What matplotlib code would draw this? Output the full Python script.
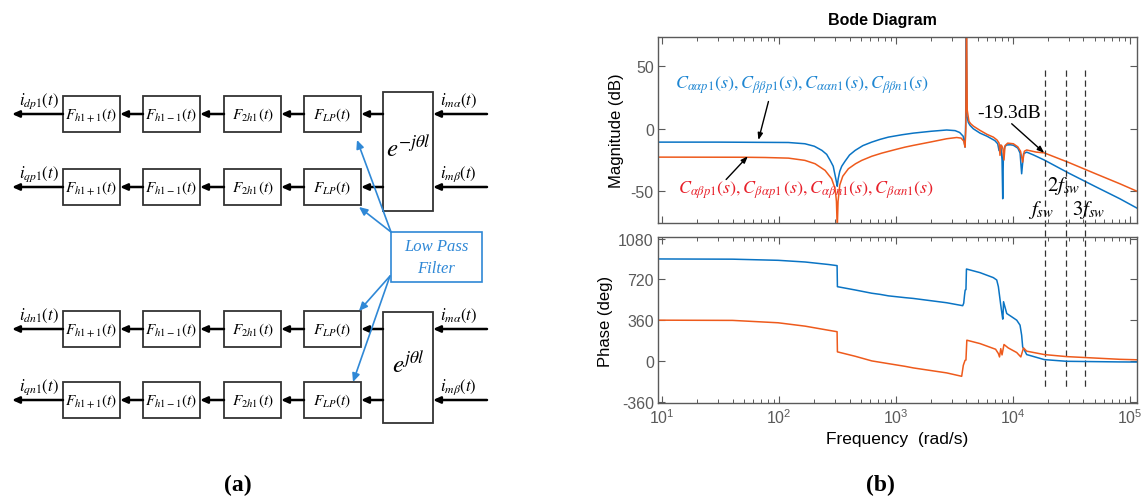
import matplotlib
matplotlib.use("Agg")
import matplotlib.pyplot as plt
import matplotlib.transforms as mtransforms
from matplotlib.lines import Line2D
from matplotlib.patches import Rectangle
from matplotlib.ticker import LogLocator, NullFormatter

plt.rcParams["mathtext.fontset"] = "stix"
plt.rcParams["font.family"] = ["Liberation Sans", "DejaVu Sans"]
plt.rcParams["axes.unicode_minus"] = False

# ---- Bode data: frequency (rad/s) vs magnitude (dB) / phase (deg) ----
w_mag_blue = [9.2, 30, 76, 120, 166, 200, 232, 255, 273, 290,
              301, 309, 314, 320, 330, 343, 366, 400, 447, 520,
              619, 730, 859, 1125, 1406, 2000, 2710, 3200, 3500, 3750,
              3890, 3940, 3990, 4040, 4150, 4290, 4575, 5225, 6000, 7000,
              7400, 7600, 7750, 7900, 8060, 8170, 8280, 8500, 8800, 9500,
              10070, 11000, 11500, 11860, 12300, 13100, 15000, 18500, 30000, 50000,
              82000, 115000]
mag_blue = [-10.7, -10.7, -10.9, -11.0, -12.0, -14.0, -17.3, -20.5, -25.3, -30.0,
            -37.3, -42.5, -46.0, -40.0, -34.0, -30.0, -26.0, -21.0, -17.3, -13.5,
            -10.7, -8.5, -6.7, -4.8, -3.5, -2.0, -1.0, -1.5, -3.0, -6.0,
            -14.7, 5.0, 100.0, 10.0, 5.0, 2.7, 0.0, -3.5, -6.0, -9.5,
            -12.0, -17.5, -13.0, -15.0, -25.0, -56.0, -20.0, -14.5, -13.0, -12.8,
            -13.2, -15.5, -19.5, -36.0, -20.0, -18.7, -21.0, -25.0, -35.5, -46.0,
            -56.0, -63.5]

w_mag_orange = [9.2, 50, 76, 120, 166, 203, 247, 281, 301, 309,
                314, 319, 330, 350, 391, 450, 509, 620, 755, 1000,
                1194, 1406, 2000, 2710, 3300, 3600, 3800, 3890, 3950, 4000,
                4060, 4200, 4350, 4600, 5225, 6000, 6790, 7300, 7600, 7745,
                7900, 8060, 8200, 8375, 8550, 9000, 10070, 11000, 11600, 12100,
                12500, 13100, 15850, 18500, 30000, 50000, 82000, 115000]
mag_orange = [-22.7, -22.8, -23.0, -23.5, -25.3, -28.0, -33.3, -40.0, -48.0, -58.0,
              -80.0, -58.0, -45.0, -38.0, -32.0, -28.0, -25.3, -22.0, -19.5, -16.5,
              -14.7, -13.3, -10.5, -8.0, -7.0, -7.5, -10.0, -14.7, 0.0, 100.0,
              15.0, 6.0, 4.0, 2.0, -1.3, -4.5, -6.7, -9.0, -11.5, -21.3,
              -13.0, -14.0, -16.0, -25.0, -13.5, -11.5, -12.0, -14.5, -18.0, -26.7,
              -18.0, -17.0, -18.7, -19.3, -27.0, -35.7, -44.0, -50.0]

w_ph_blue = [9.2, 40, 98, 167, 264, 313, 315, 446, 620, 730,
             859, 1194, 1406, 2710, 3715, 3790, 3850, 3900, 3960, 4000,
             4070, 5225, 6790, 7260, 7500, 7860, 8170, 8200, 8300, 8840,
             9750, 10760, 11490, 11860, 12100, 13100, 18530, 28770, 82200, 115000]
ph_blue = [901, 899, 889, 874, 852, 842, 656, 627, 598, 588,
           575, 559, 552, 514, 488, 510, 580, 626, 630, 812,
           810, 780, 736, 715, 656, 493, 369, 372, 523, 419,
           390, 360, 316, 227, 124, 56, 11.5, -3.5, -9, -10]

w_ph_orange = [9.2, 40, 98, 167, 264, 313, 315, 447, 620, 730,
               859, 1194, 1406, 2710, 3640, 3760, 3890, 3960, 4030, 5225,
               7100, 7500, 7670, 7860, 8060, 8375, 9100, 10760, 11670, 12300,
               13100, 18530, 28770, 82200, 115000]
ph_orange = [360, 358, 337, 307, 271, 258, 80, 41, 0, -12,
             -24, -48, -62, -106, -136, -39, 5, 8, 183, 153,
             103, 65, 35, 108, 53, 145, 115, 74, 35, 115,
             86, 56, 38, 14, 10]

# switching-frequency markers (rad/s) and their labels
sw_freqs = [18800, 28500, 41000]
sw_labels = [r"$f_{sw}$", r"$2f_{sw}$", r"$3f_{sw}$"]

# ---- block diagram content ----
row_y = [115, 188, 330, 401]
out_labels = [r"$i_{dp1}(t)$", r"$i_{qp1}(t)$", r"$i_{dn1}(t)$", r"$i_{qn1}(t)$"]
in_labels = [r"$i_{m\alpha}(t)$", r"$i_{m\beta}(t)$", r"$i_{m\alpha}(t)$", r"$i_{m\beta}(t)$"]
block_labels = [r"$F_{h1+1}(t)$", r"$F_{h1-1}(t)$", r"$F_{2h1}(t)$", r"$F_{LP}(t)$"]
block_left = [63, 143, 224, 304]
block_w, block_h = 57, 36
rot_boxes = [(93, 212, r"$e^{-j\theta l}$"), (313, 424, r"$e^{j\theta l}$")]
rot_x0, rot_x1 = 383, 433

BLUE = "#0A74C4"
ORANGE = "#EE5A1C"
TXT_BLUE = "#1E86D2"
TXT_RED = "#E8202A"
LPF_BLUE = "#2F88D6"

W, H = 1142, 502
fig = plt.figure(figsize=(W / 100, H / 100), dpi=100)


def px_axes(left, top, right, bottom, **kw):
    return fig.add_axes([left / W, 1 - bottom / H, (right - left) / W, (bottom - top) / H], **kw)


# ---------------- (a) block diagram ----------------
axd = px_axes(0, 0, W, H, zorder=0)
axd.set_xlim(0, W)
axd.set_ylim(H, 0)
axd.axis("off")


def arrow(x0, y0, x1, y1, color="k", lw=1.8, head=0.42):
    axd.annotate("", xy=(x1, y1), xytext=(x0, y0),
                 arrowprops=dict(arrowstyle=f"-|>,head_length={head},head_width={head * 0.45}",
                                 color=color, lw=lw, shrinkA=0, shrinkB=0))


def box(x, y, w, h, color="#333333", lw=1.3):
    axd.add_patch(Rectangle((x, y), w, h, fill=False, ec=color, lw=lw))


for i, y in enumerate(row_y):
    for j, xl in enumerate(block_left):
        box(xl, y - block_h / 2, block_w, block_h)
        axd.text(xl + block_w / 2, y, block_labels[j], ha="center", va="center", fontsize=11)
        if j > 0:
            arrow(xl, y, block_left[j - 1] + block_w, y)
    arrow(block_left[0], y, 12, y)
    arrow(rot_x0, y, block_left[-1] + block_w, y)
    arrow(487, y, rot_x1, y)
    axd.text(19, y - 14, out_labels[i], ha="left", va="center", fontsize=12)
    axd.text(440, y - 14, in_labels[i], ha="left", va="center", fontsize=12)

for top, bot, lab in rot_boxes:
    box(rot_x0, top, rot_x1 - rot_x0, bot - top)
    axd.text((rot_x0 + rot_x1) / 2, (top + bot) / 2 - 4, lab, ha="center", va="center", fontsize=18)

# low pass filter callout
box(391, 233, 91, 50, color=LPF_BLUE, lw=1.2)
axd.text(436, 258, "Low Pass\nFilter", ha="center", va="center", fontsize=12,
         family="Liberation Serif", style="italic", color=LPF_BLUE, linespacing=1.5)
lp_right = block_left[-1] + block_w
arrow(391, 233, lp_right - 4, row_y[0] + block_h / 2 + 8, color=LPF_BLUE, lw=1.2, head=0.5)
arrow(391, 233, lp_right - 2, row_y[1] + block_h / 2 + 2, color=LPF_BLUE, lw=1.2, head=0.5)
arrow(390, 277, lp_right - 2, row_y[2] - block_h / 2, color=LPF_BLUE, lw=1.2, head=0.5)
arrow(390, 277, lp_right - 8, row_y[3] - block_h / 2, color=LPF_BLUE, lw=1.2, head=0.5)

fig.text(238 / W, 1 - 485 / H, "(a)", ha="center", va="center", fontsize=17,
         fontweight="bold", family="Liberation Serif")
fig.text(880 / W, 1 - 485 / H, "(b)", ha="center", va="center", fontsize=17,
         fontweight="bold", family="Liberation Serif")

# ---------------- (b) Bode diagram ----------------
ax_mag = px_axes(658, 38, 1137, 224, zorder=2)
ax_ph = px_axes(658, 238, 1137, 404, zorder=2)

for ax in (ax_mag, ax_ph):
    ax.set_xscale("log")
    ax.set_xlim(9.2, 1.15e5)
    ax.xaxis.set_minor_locator(LogLocator(base=10, subs=range(2, 10), numticks=20))
    ax.xaxis.set_minor_formatter(NullFormatter())
    ax.tick_params(which="both", direction="in", top=True, right=True,
                   colors="#5a5a5a", labelsize=11.5, pad=3)
    ax.tick_params(which="major", length=5, width=0.8)
    ax.tick_params(which="minor", length=3, width=0.7)
    for s in ax.spines.values():
        s.set_color("#5a5a5a")
        s.set_linewidth(1.0)
    ax.set_facecolor("none")

ax_mag.plot(w_mag_blue, mag_blue, color=BLUE, lw=1.1)
ax_mag.plot(w_mag_orange, mag_orange, color=ORANGE, lw=1.1)
ax_mag.set_ylim(-75.4, 73.4)
ax_mag.set_yticks([-50, 0, 50])
ax_mag.tick_params(axis="x", labelbottom=False)
ax_mag.set_ylabel("Magnitude (dB)", fontsize=12)

ax_ph.plot(w_ph_blue, ph_blue, color=BLUE, lw=1.1)
ax_ph.plot(w_ph_orange, ph_orange, color=ORANGE, lw=1.1)
ax_ph.set_ylim(-372, 1095)
ax_ph.set_yticks([-360, 0, 360, 720, 1080])
ax_ph.set_ylabel("Phase (deg)", fontsize=12)
ax_ph.set_xlabel("Frequency  (rad/s)", fontsize=12.5, labelpad=4)
ax_mag.yaxis.set_label_coords(-0.072, 0.5)
ax_ph.yaxis.set_label_coords(-0.094, 0.5)

fig.text(882 / W, 1 - 20 / H, "Bode Diagram", ha="center", va="center",
         fontsize=11.5, fontweight="bold")

# dashed switching-frequency lines run across both panels
trans = mtransforms.blended_transform_factory(ax_mag.transData, fig.transFigure)
for f in sw_freqs:
    ax_mag.add_line(Line2D([f, f], [1 - 71 / H, 1 - 388 / H], transform=trans,
                           ls=(0, (5, 3)), color="#333333", lw=0.9, clip_on=False))
ax_mag.text(17500, -64, sw_labels[0], ha="center", va="center", fontsize=15)
ax_mag.text(27000, -45, sw_labels[1], ha="center", va="center", fontsize=15)
ax_mag.text(44000, -64, sw_labels[2], ha="center", va="center", fontsize=15)

# curve labels with pointer arrows
ax_mag.text(12.9, 36, r"$C_{\alpha\alpha p1}(s),C_{\beta\beta p1}(s),C_{\alpha\alpha n1}(s),C_{\beta\beta n1}(s)$",
            color=TXT_BLUE, fontsize=13, ha="left", va="center")
ax_mag.text(13.7, -48, r"$C_{\alpha\beta p1}(s),C_{\beta\alpha p1}\,(s),C_{\alpha\beta n1}(s),C_{\beta\alpha n1}(s)$",
            color=TXT_RED, fontsize=13, ha="left", va="center")
arw = dict(arrowstyle="-|>,head_length=0.4,head_width=0.15", color="k", lw=1.0, shrinkA=0, shrinkB=0)
ax_mag.annotate("", xy=(66.5, -9.0), xytext=(81, 21.8), arrowprops=arw)
ax_mag.annotate("", xy=(54, -22.0), xytext=(35.2, -40.6), arrowprops=arw)
ax_mag.text(4900, 13.4, "-19.3dB", fontsize=14, family="Liberation Serif", ha="left", va="center")
ax_mag.annotate("", xy=(18500, -19.3), xytext=(9750, 4), arrowprops=arw)

fig.savefig("out.png", dpi=100)
